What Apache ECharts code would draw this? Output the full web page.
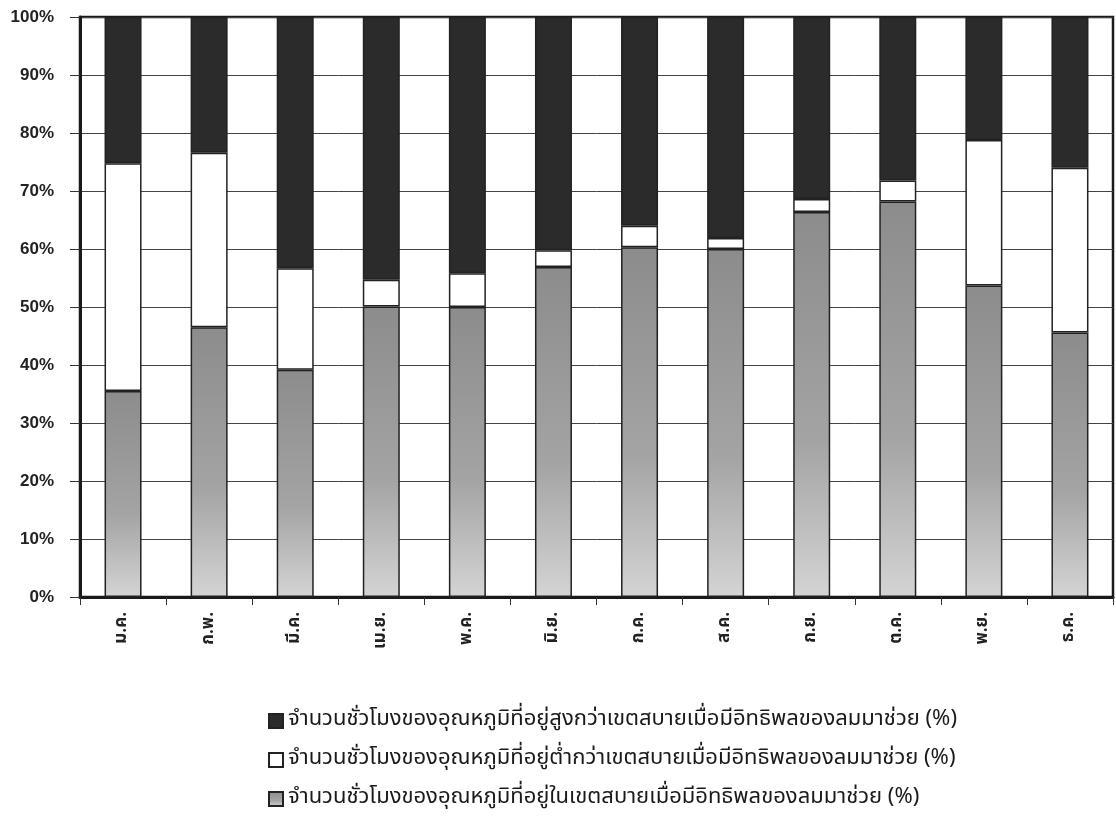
<!DOCTYPE html>
<html>
<head>
<meta charset="utf-8">
<script src="https://cdn.jsdelivr.net/npm/echarts@6/dist/echarts.min.js"></script>
<style>
html,body{margin:0;padding:0;background:#fff;}
#chart{width:1116px;height:827px;}
</style>
</head>
<body>
<div id="chart"></div>
<script>
const months = ['ม.ค.','ก.พ.','มี.ค.','เม.ย.','พ.ค.','มิ.ย.','ก.ค.','ส.ค.','ก.ย.','ต.ค.','พ.ย.','ธ.ค.'];
const yTicks = [0,10,20,30,40,50,60,70,80,90,100];
const seriesNames = [
  'จำนวนชั่วโมงของอุณหภูมิที่อยู่สูงกว่าเขตสบายเมื่อมีอิทธิพลของลมมาช่วย (%)',
  'จำนวนชั่วโมงของอุณหภูมิที่อยู่ต่ำกว่าเขตสบายเมื่อมีอิทธิพลของลมมาช่วย (%)',
  'จำนวนชั่วโมงของอุณหภูมิที่อยู่ในเขตสบายเมื่อมีอิทธิพลของลมมาช่วย (%)'
];
const comfortPct = [35.5, 46.5, 39.2, 50.1, 50.0, 56.9, 60.3, 60.0, 66.4, 68.2, 53.7, 45.6];
const belowPct   = [39.3, 30.1, 17.5,  4.6,  5.8,  2.9,  3.7,  1.9,  2.2,  3.6, 25.1, 28.4];
const abovePct   = [25.2, 23.4, 43.3, 45.3, 44.2, 40.2, 36.0, 38.1, 31.4, 28.2, 21.2, 26.0];

const chart = echarts.init(document.getElementById('chart'));
const grayFill = new echarts.graphic.LinearGradient(0,0,0,1,[
  {offset:0,color:'#8c8c8c'},{offset:0.6,color:'#a4a4a4'},{offset:1,color:'#d4d4d4'}
]);
const barW = 37;
const thaiFont = '"Noto Sans Thai","Liberation Sans",sans-serif';
chart.setOption({
  animation:false,
  backgroundColor:'#fff',
  grid:{left:80,right:3,top:17,bottom:230,show:true,borderColor:'#1a1a1a',borderWidth:2.5,backgroundColor:'#fff'},
  legend:{
    orient:'vertical',left:263,top:705,itemGap:17,itemWidth:14,itemHeight:14,icon:'rect',
    data:[seriesNames[0],seriesNames[1],seriesNames[2]],
    textStyle:{fontSize:22,lineHeight:22,color:'#1a1a1a',fontFamily:thaiFont}
  },
  xAxis:{
    type:'category',data:months,
    axisLine:{lineStyle:{color:'#1a1a1a',width:3}},
    axisTick:{show:true,length:8,lineStyle:{color:'#333',width:1}},
    axisLabel:{rotate:90,fontSize:17,color:'#222',margin:15,fontWeight:'bold',fontFamily:thaiFont}
  },
  yAxis:{
    type:'value',min:yTicks[0],max:yTicks[yTicks.length-1],interval:10,
    axisLine:{show:true,lineStyle:{color:'#1a1a1a',width:3}},
    axisTick:{show:true,length:10,lineStyle:{color:'#333'}},
    axisLabel:{formatter:'{value}%',fontSize:17,fontWeight:'bold',color:'#222',margin:26,fontFamily:'"Liberation Sans",Arial,sans-serif'},
    splitLine:{show:true,lineStyle:{color:'#444',width:1}}
  },
  series:[
    {name:seriesNames[2],type:'bar',stack:'t',data:comfortPct,barWidth:barW,
     itemStyle:{color:grayFill,borderColor:'#222',borderWidth:1.5}},
    {name:seriesNames[1],type:'bar',stack:'t',data:belowPct,barWidth:barW,
     itemStyle:{color:'#ffffff',borderColor:'#222',borderWidth:1.5}},
    {name:seriesNames[0],type:'bar',stack:'t',data:abovePct,barWidth:barW,
     itemStyle:{color:'#2b2b2b',borderColor:'#222',borderWidth:1.5}}
  ]
});
</script>
</body>
</html>
